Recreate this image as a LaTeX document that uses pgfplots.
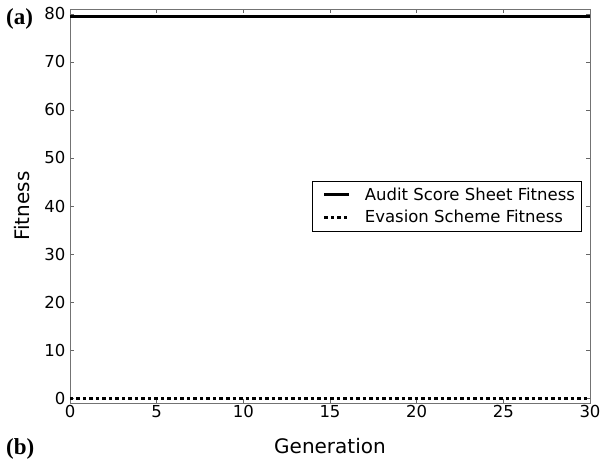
\documentclass[border=0pt]{standalone}
\usepackage{pgfplots}
\pgfplotsset{compat=1.18}
\usepackage{fontspec}
\setmainfont{DejaVu Sans}
\newfontfamily\serifb{Liberation Serif}
\begin{document}
\begin{tikzpicture}[x=1pt,y=1pt]
\clip (0,0) rectangle (606,461);
\begin{axis}[
  at={(70pt,58pt)}, anchor=south west,
  scale only axis, width=520pt, height=394pt,
  xmin=0, xmax=30, ymin=-1, ymax=81,
  xtick={0,5,...,30}, ytick={0,10,...,80},
  tick align=inside, tick style={black!60, thin},
  major tick length=4pt,
  axis line style={black!55},
  /pgf/number format/assume math mode=true,
  ticklabel style={font=\fontsize{16.5}{18}\selectfont},
  xticklabel style={yshift=1pt},
  yticklabel style={xshift=-1pt},
  xlabel={Generation}, ylabel={Fitness},
  label style={font=\fontsize{20}{22}\selectfont},
  xlabel style={at={(axis description cs:0.5,-0.127)}, anchor=base},
  ylabel style={at={(axis description cs:-0.092,0.5)}, anchor=center},
  legend style={at={(0.983,0.5)}, anchor=east, font=\fontsize{16.5}{18}\selectfont,
    draw=black, inner xsep=4pt, inner ysep=5pt, row sep=4pt, column sep=12pt,
    cells={anchor=west}},
  legend image code/.code={\path (-7pt,0pt); \draw[#1] (0pt,0pt) -- (25pt,0pt);},
]
\addplot[black, line width=3pt] coordinates {(0,79.5) (30,79.5)};
\addlegendentry{Audit Score Sheet Fitness}
\addplot[black, line width=3pt, dash pattern=on 3.5pt off 3pt] coordinates {(0,0) (30,0)};
\addlegendentry{Evasion Scheme Fitness}
\end{axis}
\node[anchor=base west, inner sep=0pt, font=\serifb\bfseries\fontsize{23}{26}\selectfont] at (6,436) {(a)};
\node[anchor=base west, inner sep=0pt, font=\serifb\bfseries\fontsize{23}{26}\selectfont] at (6,6) {(b)};
\end{tikzpicture}
\end{document}
